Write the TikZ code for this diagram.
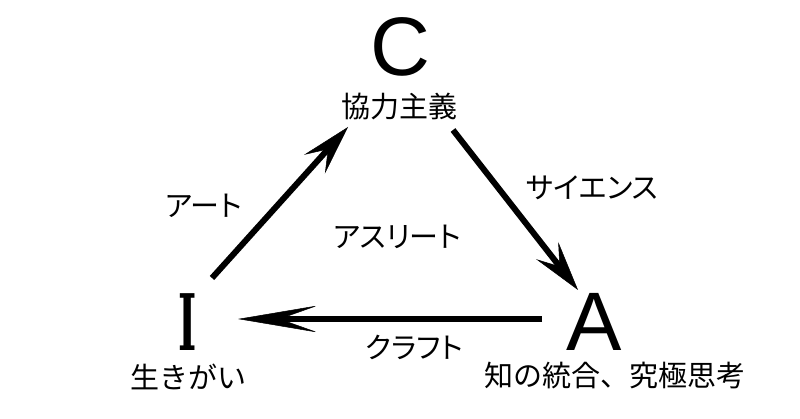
\documentclass[tikz,border=0pt]{standalone}
\usepackage{fontspec}
\setmainfont{Liberation Sans}
\newfontfamily\jpfont{Noto Sans CJK JP}
\newfontfamily\jpkana[RawFeature=+palt]{Noto Sans CJK JP}
\newfontfamily\islab{DejaVu Serif Bold}
\usetikzlibrary{arrows.meta}
\begin{document}
\begin{tikzpicture}[x=1pt,y=-1pt,
  bigletter/.style={font=\fontsize{83}{83}\selectfont, inner sep=0pt},
  jplabel/.style={font=\jpfont\fontsize{29}{29}\selectfont, inner sep=0pt},
  kanalabel/.style={font=\jpkana\fontsize{29}{29}\selectfont, inner sep=0pt},
  slant/.style={line width=6pt, -{Stealth[length=50pt,width=28pt,inset=20pt,line width=0.5pt]}},
  flat/.style={line width=6pt, -{Stealth[length=80pt,width=27pt,inset=38pt,line width=0.5pt]}}]
\useasboundingbox (0,0) rectangle (800,419);
\fill[white] (0,0) rectangle (800,419);
% vertices
\node[bigletter] (C) at (400,47) {C};
\node[jplabel] (Ct) at (399,107) {協力主義};
\node[inner sep=0pt, font=\islab\fontsize{78}{78}\selectfont] (I) at (188,322) {\scalebox{0.5}[1]{I}};
\node[jplabel] (It) at (188,377) {生きがい};
\node[bigletter] (A) at (594,322) {A};
\node[jplabel] (At) at (615,376) {知の統合、究極思考};
% edge labels
\node[kanalabel] (art) at (204,206) {アート};
\node[kanalabel] (sci) at (592,188) {サイエンス};
\node[kanalabel] (ath) at (397,237) {アスリート};
\node[kanalabel] (cra) at (414,347) {クラフト};
% connector ends
\coordinate (ICs) at (212,278);
\coordinate (ICe) at (348,127);
\coordinate (CAs) at (453,130);
\coordinate (CAe) at (578,290);
\coordinate (AIs) at (542,319);
\coordinate (AIe) at (238,319);
\draw[slant] (ICs) -- (ICe);
\draw[slant] (CAs) -- (CAe);
\draw[flat] (AIs) -- (AIe);
\end{tikzpicture}
\end{document}
